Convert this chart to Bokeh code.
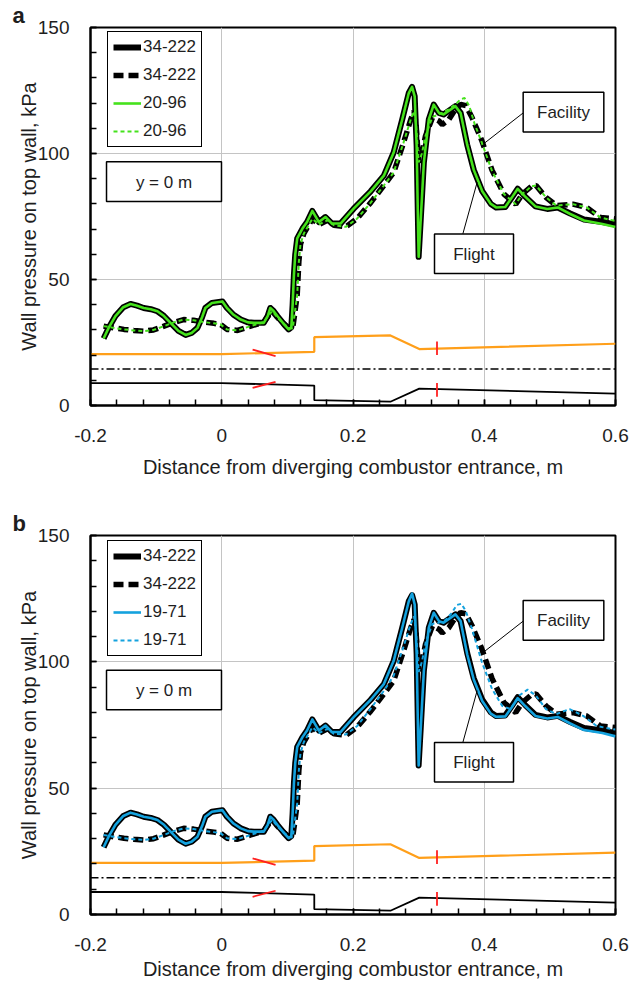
from bokeh.plotting import figure
from bokeh.layouts import column
from bokeh.models import Legend, LegendItem, Label, BoxAnnotation, Range1d, FixedTicker, Title
from bokeh.embed import file_html
from bokeh.resources import INLINE

# ---------------- data ----------------
# 34-222 flight (solid black)
flight_34_x = [-0.180, -0.172, -0.162, -0.150, -0.139, -0.129, -0.119, -0.108, -0.098, -0.088, -0.078,
               -0.066, -0.055, -0.046, -0.037, -0.030, -0.025, -0.015, 0.001, 0.008, 0.018, 0.029,
               0.040, 0.049, 0.064, 0.070, 0.074, 0.079, 0.085, 0.095, 0.102, 0.106, 0.108, 0.110,
               0.112, 0.115, 0.123, 0.130, 0.138, 0.148, 0.158, 0.168, 0.181, 0.201, 0.227, 0.247,
               0.262, 0.275, 0.285, 0.290, 0.294, 0.297, 0.299, 0.300, 0.303, 0.308, 0.3155, 0.323,
               0.331, 0.338, 0.349, 0.356, 0.364, 0.374, 0.384, 0.397, 0.410, 0.418, 0.432, 0.442,
               0.451, 0.462, 0.478, 0.496, 0.512, 0.531, 0.552, 0.580, 0.600]
flight_34_y = [26.6, 31.0, 35.5, 39.0, 40.3, 39.6, 38.7, 38.2, 37.4, 35.5, 32.8,
               29.6, 28.0, 28.8, 30.8, 35.0, 38.7, 40.7, 41.3, 38.7, 36.0, 34.1,
               33.0, 32.8, 32.8, 35.5, 38.7, 37.5, 35.4, 32.2, 30.2, 31.0, 40.0, 52.0,
               60.0, 66.3, 70.2, 72.8, 77.2, 72.8, 74.8, 72.2, 72.2, 78.1, 85.0, 91.2,
               100.4, 113.5, 124.0, 126.4, 122.7, 103.0, 72.8, 59.0, 72.8, 96.5, 113.5, 119.4,
               116.1, 115.5, 117.5, 118.8, 116.1, 103.5, 93.5, 85.0, 80.0, 78.6, 78.8, 82.5,
               86.0, 83.0, 79.0, 78.0, 78.6, 76.2, 73.8, 72.8, 71.8]

# 34-222 facility (dashed black)
facility_34_x = [-0.180, -0.165, -0.149, -0.134, -0.119, -0.104, -0.088, -0.073, -0.058, -0.043, -0.027,
                 -0.012, -0.002, 0.008, 0.024, 0.044, 0.064, 0.072, 0.077, 0.083, 0.090, 0.102, 0.108,
                 0.111, 0.115, 0.1175, 0.120, 0.125, 0.138, 0.148, 0.161, 0.171, 0.189, 0.206, 0.227,
                 0.247, 0.262, 0.277, 0.288, 0.293, 0.296, 0.300, 0.305, 0.3105, 0.321, 0.331, 0.336,
                 0.346, 0.356, 0.364, 0.372, 0.381, 0.396, 0.412, 0.430, 0.448, 0.458, 0.472, 0.479,
                 0.494, 0.510, 0.535, 0.556, 0.577, 0.600]
facility_34_y = [31.5, 30.8, 30.2, 29.8, 29.5, 30.0, 31.5, 33.0, 34.1, 33.8, 33.1,
                 32.6, 32.2, 30.2, 29.8, 31.5, 33.1, 36.0, 37.4, 35.5, 33.5, 30.8, 30.5,
                 36.0, 44.0, 57.0, 64.0, 68.2, 74.1, 71.8, 73.5, 71.5, 70.9, 74.1, 80.5,
                 87.3, 92.5, 104.3, 113.5, 116.8, 112.0, 96.5, 100.0, 107.0, 114.2, 112.9, 111.5,
                 113.5, 117.5, 119.5, 119.0, 114.5, 105.3, 93.3, 83.9, 79.9, 83.9, 87.0, 87.3,
                 82.6, 79.3, 79.9, 78.6, 74.6, 74.0]

# 20-96 flight (solid green)
flight_20_x = flight_34_x
flight_20_y = [26.6, 31.0, 35.5, 39.0, 40.3, 39.6, 38.7, 38.2, 37.4, 35.5, 32.8,
               29.6, 28.0, 28.8, 30.8, 35.0, 38.7, 40.7, 41.3, 38.7, 36.0, 34.1,
               33.0, 32.8, 32.8, 35.5, 38.7, 37.5, 35.4, 32.2, 30.2, 31.0, 40.0, 52.0,
               60.0, 66.3, 70.2, 72.8, 77.2, 72.8, 74.8, 72.2, 72.2, 78.1, 85.0, 91.2,
               100.4, 113.5, 124.0, 126.4, 122.7, 103.0, 72.8, 59.0, 72.8, 96.5, 113.5, 119.4,
               116.1, 115.5, 117.5, 118.8, 116.1, 103.5, 93.5, 85.0, 80.0, 78.6, 78.8, 82.5,
               86.0, 83.0, 79.0, 78.0, 78.6, 76.0, 73.4, 72.0, 70.8]

# 20-96 facility (dashed green)
facility_20_x = [-0.180, -0.165, -0.149, -0.134, -0.119, -0.104, -0.088, -0.073, -0.058, -0.043, -0.027,
                 -0.012, -0.002, 0.008, 0.024, 0.044, 0.064, 0.072, 0.077, 0.083, 0.090, 0.102, 0.108,
                 0.111, 0.115, 0.1175, 0.120, 0.125, 0.138, 0.148, 0.161, 0.171, 0.189, 0.206, 0.227,
                 0.247, 0.262, 0.277, 0.288, 0.293, 0.296, 0.300, 0.305, 0.3105, 0.321, 0.331, 0.346,
                 0.356, 0.364, 0.370, 0.377, 0.385, 0.396, 0.412, 0.430, 0.448, 0.458, 0.472, 0.479,
                 0.494, 0.510, 0.535, 0.556, 0.577, 0.600]
facility_20_y = [31.5, 30.8, 30.2, 29.8, 29.5, 30.0, 31.5, 33.0, 34.1, 33.8, 33.1,
                 32.6, 32.2, 30.2, 29.8, 31.5, 33.1, 36.0, 37.4, 35.5, 33.5, 30.8, 30.5,
                 36.0, 44.0, 57.0, 64.0, 68.2, 74.1, 71.8, 73.5, 71.5, 70.9, 74.1, 80.5,
                 87.3, 92.5, 104.3, 113.5, 116.8, 112.0, 96.5, 100.0, 107.0, 114.5, 115.5, 117.5,
                 119.5, 121.5, 122.0, 119.0, 112.0, 104.5, 93.0, 83.9, 79.9, 83.9, 87.0, 87.3,
                 82.6, 79.3, 79.9, 78.6, 74.6, 73.2]

# 19-71 flight (solid blue)
flight_19_x = flight_34_x
flight_19_y = [26.6, 31.0, 35.5, 39.0, 40.3, 39.6, 38.7, 38.2, 37.4, 35.5, 32.8,
               29.6, 28.0, 28.8, 30.8, 35.0, 38.7, 40.7, 41.3, 38.7, 36.0, 34.1,
               33.0, 32.8, 32.8, 35.5, 38.7, 37.5, 35.4, 32.2, 30.2, 31.0, 40.0, 52.0,
               60.0, 66.3, 70.2, 72.8, 77.2, 72.8, 74.8, 72.2, 72.2, 78.1, 85.0, 91.2,
               100.4, 113.5, 124.0, 127.0, 122.7, 103.0, 72.8, 59.0, 72.8, 96.5, 113.5, 119.4,
               116.1, 115.5, 117.5, 118.8, 116.1, 103.0, 93.0, 84.5, 79.5, 78.2, 78.4, 82.0,
               85.6, 82.6, 78.6, 77.6, 78.2, 75.6, 73.0, 71.8, 70.5]

# 19-71 facility (dashed blue)
facility_19_x = [-0.180, -0.165, -0.149, -0.134, -0.119, -0.104, -0.088, -0.073, -0.058, -0.043, -0.027,
                 -0.012, -0.002, 0.008, 0.024, 0.044, 0.064, 0.072, 0.077, 0.083, 0.090, 0.102, 0.108,
                 0.111, 0.115, 0.1175, 0.120, 0.125, 0.138, 0.148, 0.161, 0.171, 0.189, 0.206, 0.227,
                 0.247, 0.262, 0.277, 0.288, 0.293, 0.296, 0.300, 0.305, 0.311, 0.321, 0.331, 0.341,
                 0.351, 0.358, 0.3653, 0.372, 0.381, 0.3963, 0.4118, 0.4272, 0.440, 0.453, 0.466, 0.4788,
                 0.494, 0.5096, 0.530, 0.5508, 0.5714, 0.592, 0.600]
facility_19_y = [31.5, 30.8, 30.2, 29.8, 29.5, 30.0, 31.5, 33.0, 34.1, 33.8, 33.1,
                 32.6, 32.2, 30.2, 29.8, 31.5, 33.1, 36.0, 37.4, 35.5, 33.5, 30.8, 30.5,
                 36.0, 44.0, 57.0, 64.0, 68.2, 74.1, 71.8, 73.5, 71.5, 71.2, 74.5, 81.5,
                 88.5, 94.5, 106.0, 115.0, 118.0, 112.0, 96.0, 100.0, 108.0, 115.0, 115.5, 116.5,
                 119.5, 122.5, 123.0, 120.0, 113.3, 100.0, 89.3, 82.6, 81.3, 86.6, 89.0, 86.6,
                 81.3, 79.3, 81.3, 78.6, 74.6, 73.5, 73.2]

# combustor geometry sketch
top_wall_x = [-0.2, 0.0, 0.141, 0.141, 0.257, 0.301, 0.6]
top_wall_y = [20.4, 20.4, 21.3, 27.1, 27.8, 22.4, 24.5]
bottom_wall_x = [-0.2, 0.0, 0.141, 0.141, 0.257, 0.301, 0.6]
bottom_wall_y = [8.9, 8.9, 7.9, 2.1, 1.5, 6.7, 4.7]
centerline_x = [-0.2, 0.6]
centerline_y = [14.5, 14.5]
red_top_slash_x = [0.047, 0.082]
red_top_slash_y = [22.2, 19.6]
red_bottom_slash_x = [0.047, 0.082]
red_bottom_slash_y = [7.0, 9.4]
red_top_bar_x = [0.328, 0.328]
red_top_bar_y = [25.4, 20.0]
red_bottom_bar_x = [0.328, 0.328]
red_bottom_bar_y = [8.9, 3.5]

# annotation leader lines
facility_leader_x = [0.4593, 0.3983]
facility_leader_y = [116.1, 103.7]
flight_leader_x = [0.3674, 0.3892]
flight_leader_y = [68.1, 88.6]

x_ticks = [-0.2, 0.0, 0.2, 0.4, 0.6]
x_tick_labels = ["-0.2", "0", "0.2", "0.4", "0.6"]
y_ticks = [0, 50, 100, 150]
y_tick_labels = ["0", "50", "100", "150"]

FONT = "Liberation Sans"
GREEN = "#45e21c"
BLUE = "#14a2de"
ORANGE = "#ff9f1a"
RED = "#ff2020"
TXT = "#1e1e1e"


def make_panel(letter, col_label, col_color, cfx, cfy, ccx, ccy, height, btop, bbottom, title_standoff):
    p = figure(width=632, height=height, x_range=Range1d(-0.2, 0.6), y_range=Range1d(0, 150),
               output_backend="svg", toolbar_location=None,
               min_border_left=90, min_border_right=17, min_border_top=btop, min_border_bottom=bbottom)
    p.background_fill_color = "white"
    p.outline_line_color = "black"
    p.outline_line_width = 2
    p.outline_line_alpha = 1

    p.title = Title(text=letter, align="left", offset=-78, standoff=0, text_line_height=0.8,
                    text_font=FONT, text_font_size="22px", text_font_style="bold", text_color=TXT)

    minor_x = [round(-0.2 + 0.04 * k, 3) for k in range(21)]
    minor_y = list(range(0, 151, 10))
    p.xaxis.ticker = FixedTicker(ticks=x_ticks, minor_ticks=minor_x)
    p.yaxis.ticker = FixedTicker(ticks=y_ticks, minor_ticks=minor_y)
    p.xaxis.major_label_overrides = {t: s for t, s in zip(x_ticks, x_tick_labels)}
    p.yaxis.major_label_overrides = {t: s for t, s in zip(y_ticks, y_tick_labels)}
    for ax in (p.xaxis[0], p.yaxis[0]):
        ax.major_tick_in = 6
        ax.major_tick_out = 0
        ax.minor_tick_in = 6
        ax.minor_tick_out = 0
        ax.major_tick_line_color = "black"
        ax.minor_tick_line_color = "black"
        ax.major_tick_line_width = 1.5
        ax.minor_tick_line_width = 1.5
        ax.axis_line_color = "black"
        ax.axis_line_width = 2
        ax.major_label_text_font = FONT
        ax.major_label_text_font_size = "19px"
        ax.major_label_text_color = TXT
        ax.axis_label_text_font = FONT
        ax.axis_label_text_font_size = "20px"
        ax.axis_label_text_font_style = "normal"
        ax.axis_label_text_color = TXT
    p.xaxis.major_label_standoff = 23
    p.xaxis.axis_label_standoff = title_standoff
    p.yaxis.major_label_standoff = 21
    p.yaxis.axis_label_standoff = -5
    p.xaxis.axis_label = "Distance from diverging combustor entrance, m"
    p.yaxis.axis_label = "Wall pressure on top wall, kPa"

    p.xgrid.grid_line_color = "#c4c4c4"
    p.ygrid.grid_line_color = "#c4c4c4"
    p.xgrid.grid_line_width = 1
    p.ygrid.grid_line_width = 1

    # geometry sketch
    p.line(top_wall_x, top_wall_y, line_color=ORANGE, line_width=2.2)
    p.line(bottom_wall_x, bottom_wall_y, line_color="black", line_width=1.8)
    p.line(centerline_x, centerline_y, line_color="black", line_width=1.5, line_dash="8 3 2 3")
    for xs, ys in ((red_top_slash_x, red_top_slash_y), (red_bottom_slash_x, red_bottom_slash_y),
                   (red_top_bar_x, red_top_bar_y), (red_bottom_bar_x, red_bottom_bar_y)):
        p.line(xs, ys, line_color=RED, line_width=1.8)

    # pressure curves
    r1 = p.line(flight_34_x, flight_34_y, line_color="black", line_width=6, line_join="round")
    r2 = p.line(facility_34_x, facility_34_y, line_color="black", line_width=5.5, line_dash="10 5")
    r3 = p.line(cfx, cfy, line_color=col_color, line_width=2.6, line_join="round")
    r4 = p.line(ccx, ccy, line_color=col_color, line_width=2, line_dash="4 3")

    # leader lines
    p.line(facility_leader_x, facility_leader_y, line_color="black", line_width=1)
    p.line(flight_leader_x, flight_leader_y, line_color="black", line_width=1)

    legend = Legend(items=[LegendItem(label="34-222", renderers=[r1]),
                           LegendItem(label="34-222", renderers=[r2]),
                           LegendItem(label=col_label, renderers=[r3]),
                           LegendItem(label=col_label, renderers=[r4])],
                    location=(17, 258))
    legend.label_text_font = FONT
    legend.label_text_font_size = "17px"
    legend.label_text_color = TXT
    legend.glyph_width = 28
    legend.glyph_height = 20
    legend.label_height = 20
    legend.label_standoff = 2
    legend.spacing = 8
    legend.padding = 5
    legend.margin = 0
    legend.border_line_color = "black"
    legend.border_line_width = 1.5
    legend.border_line_alpha = 1
    legend.background_fill_alpha = 1
    p.add_layout(legend)

    box_style = dict(fill_color="white", fill_alpha=1, line_color="black", line_width=1.5, line_alpha=1)
    p.add_layout(BoxAnnotation(left=-0.1756, right=-0.0004, top=96.7, bottom=81.0, **box_style))
    p.add_layout(BoxAnnotation(left=0.4593, right=0.5822, top=124.3, bottom=108.5, **box_style))
    p.add_layout(BoxAnnotation(left=0.3242, right=0.4446, top=68.1, bottom=52.4, **box_style))

    txt = dict(text_font=FONT, text_font_size="17px", text_color=TXT,
               text_align="center", text_baseline="middle")
    p.add_layout(Label(x=-0.088, y=88.6, text="y = 0 m", **txt))
    p.add_layout(Label(x=0.5207, y=116.2, text="Facility", **txt))
    p.add_layout(Label(x=0.3844, y=60.0, text="Flight", **txt))
    return p


pa = make_panel("a", "20-96", GREEN, flight_20_x, flight_20_y, facility_20_x, facility_20_y,
                height=485, btop=24, bbottom=80, title_standoff=11)
pb = make_panel("b", "19-71", BLUE, flight_19_x, flight_19_y, facility_19_x, facility_19_y,
                height=501, btop=50, bbottom=72, title_standoff=4)

layout = column(pa, pb, spacing=0)
open("out.html", "w").write(file_html(layout, INLINE))
